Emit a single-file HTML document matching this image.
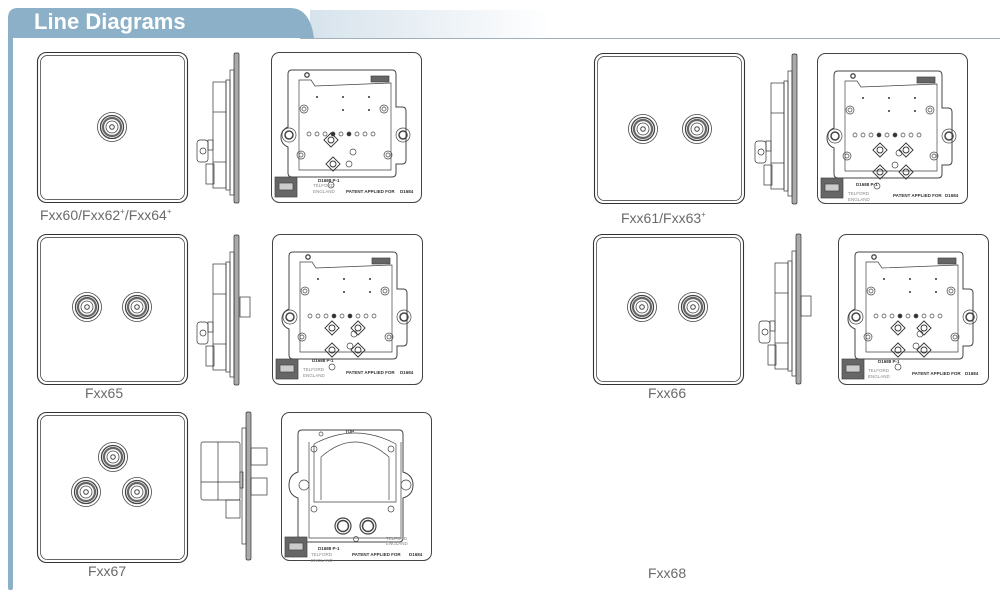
<!DOCTYPE html>
<html><head><meta charset="utf-8"><style>
html,body{margin:0;padding:0;background:#fff;width:1000px;height:592px;overflow:hidden}
svg{display:block}
.lbl{font-family:"Liberation Sans",sans-serif;font-size:14px;fill:#6a6a6a}
.t{font-family:"Liberation Sans",sans-serif;font-size:4.5px;fill:#333;font-weight:bold}
.tg{font-family:"Liberation Sans",sans-serif;font-size:4.5px;fill:#888}
</style></head><body>
<svg width="1000" height="592" viewBox="0 0 1000 592" xmlns="http://www.w3.org/2000/svg">
<defs>
<linearGradient id="hg" x1="0" x2="1" y1="0" y2="0">
<stop offset="0" stop-color="#d7e3ec"/><stop offset="0.35" stop-color="#fff"/></linearGradient>
<g id="front" fill="none" stroke="#333">
<rect x="0.5" y="0.5" width="150" height="150" rx="9" stroke-width="1.1"/>
<rect x="3.5" y="3.5" width="144" height="144" rx="7" stroke-width="0.7"/>
</g>
<g id="sock" fill="none" stroke="#444">
<circle r="14.5" stroke-width="0.8"/>
<circle r="11.5" stroke-width="1.3"/>
<circle r="9" stroke-width="2.2" stroke="#666"/>
<circle r="6" stroke-width="0.8"/>
<circle r="2.3" stroke-width="1"/>
</g>
<g id="side" fill="none" stroke="#333" stroke-width="0.7">
<rect x="40" y="1" width="5" height="150" rx="1.5" fill="#aaa"/>
<rect x="36" y="18" width="4" height="125"/>
<rect x="32" y="28" width="4" height="110"/>
<rect x="19" y="30" width="13" height="106"/>
<line x1="19" y1="60" x2="32" y2="60"/><line x1="19" y1="110" x2="32" y2="110"/>
<rect x="14" y="88" width="5" height="10"/>
<rect x="3" y="88" width="11" height="22" rx="3"/>
<circle cx="9" cy="99" r="3"/>
<rect x="12" y="112" width="8" height="20"/>
</g>
<g id="rear" fill="none" stroke="#444" stroke-width="0.7">
<rect x="0.5" y="0.5" width="150" height="150" rx="8" stroke-width="1"/>
<path d="M17 22 Q17 18 21 18 L121 18 Q125 18 125 22 L125 55 L131 55 Q135 55 135 59 L135 108 Q135 112 131 112 L125 112 L125 121 Q125 125 121 125 L21 125 Q17 125 17 121 L17 95 Q10 92 10 85 Q10 78 17 75 Z" stroke-width="1"/>
<path d="M28 28 L40 28 L44 34 L120 31 L120 118 L28 118 Z"/>
<circle cx="36" cy="23" r="2.2" stroke-width="1.3"/>
<rect x="100" y="24" width="18" height="6" fill="#666"/>
<circle cx="18" cy="83" r="7"/><circle cx="18" cy="83" r="4" stroke-width="1.5"/>
<circle cx="132" cy="83" r="7"/><circle cx="132" cy="83" r="4" stroke-width="1.5"/>
<circle cx="33" cy="57" r="4"/><circle cx="33" cy="57" r="2"/>
<circle cx="113" cy="57" r="4"/><circle cx="113" cy="57" r="2"/>
<circle cx="30" cy="103" r="4"/><circle cx="30" cy="103" r="2"/>
<circle cx="117" cy="103" r="4"/><circle cx="117" cy="103" r="2"/>
<g fill="#333" stroke="none"><circle cx="46" cy="45" r="1"/><circle cx="72" cy="45" r="1"/><circle cx="98" cy="45" r="1"/><circle cx="72" cy="58" r="1"/><circle cx="98" cy="58" r="1"/></g>
<circle cx="38" cy="82" r="2"/><circle cx="46" cy="82" r="2"/><circle cx="54" cy="82" r="2"/><circle cx="62" cy="82" r="2" fill="#333"/><circle cx="70" cy="82" r="2"/><circle cx="78" cy="82" r="2" fill="#333"/><circle cx="86" cy="82" r="2"/><circle cx="94" cy="82" r="2"/><circle cx="102" cy="82" r="2"/>
<circle cx="82" cy="100" r="3"/><circle cx="78" cy="112" r="3"/>
<rect x="4" y="125" width="22" height="20" fill="#666"/>
<rect x="8" y="131" width="14" height="7" fill="#ccc"/>
<circle cx="60" cy="133" r="3"/>
</g>
<g id="sq" fill="none" stroke="#333" stroke-width="0.9">
<rect x="-5" y="-5" width="10" height="10" transform="rotate(45)"/><circle r="3"/>
</g>
<g id="rear67" fill="none" stroke="#444" stroke-width="0.7">
<rect x="0.5" y="0.5" width="150" height="148" rx="8" stroke-width="1"/>
<path d="M17 22 Q17 18 21 18 L118 18 Q122 18 122 22 L122 60 Q132 63 132 73 Q132 83 122 86 L122 126 Q122 130 118 130 L21 130 Q17 130 17 126 L17 86 Q8 83 8 73 Q8 63 17 60 Z" stroke-width="1"/>
<path d="M33 32 L33 90 L115 90 L115 32 Q74 10 33 32 Z"/>
<path d="M40 88 L40 45 Q74 15 108 45 L108 88"/>
<path d="M28 30 L28 126 L120 126 L120 30"/>
<circle cx="23" cy="73" r="5"/><circle cx="125" cy="73" r="5"/>
<circle cx="33" cy="37" r="3"/><circle cx="110" cy="37" r="3"/>
<circle cx="33" cy="97" r="3"/><circle cx="110" cy="97" r="3"/>
<circle cx="62" cy="114" r="8" stroke-width="1.2"/><circle cx="62" cy="114" r="5.5" stroke-width="1.5"/>
<circle cx="87" cy="114" r="8" stroke-width="1.2"/><circle cx="87" cy="114" r="5.5" stroke-width="1.5"/>
<circle cx="40" cy="22" r="2"/><circle cx="75" cy="127" r="2.5"/>
<rect x="4" y="125" width="22" height="20" fill="#666"/>
<rect x="8" y="131" width="14" height="7" fill="#ccc"/>
</g>
</defs>

<!-- header -->
<rect x="310" y="10" width="690" height="28" fill="url(#hg)"/>
<line x1="300" y1="38.5" x2="1000" y2="38.5" stroke="#9fb0bc" stroke-width="1"/>
<path d="M8 38 L8 18 Q8 8 18 8 L290 8 Q310 8 314 38 Z" fill="#8cb0c8"/>
<rect x="8" y="30" width="5" height="560" rx="2" fill="#8cb0c8"/>
<text x="34" y="29" font-family="Liberation Sans,sans-serif" font-size="22" font-weight="bold" fill="#fff">Line Diagrams</text>

<!-- Fxx60 -->
<use href="#front" x="37" y="52"/>
<use href="#sock" x="112" y="127"/>
<use href="#side" x="194" y="52"/>
<use href="#rear" x="271" y="52"/>
<use href="#sq" x="331" y="140"/><use href="#sq" x="333" y="164"/>
<text class="t" x="318" y="182">D1688 P-1</text><text class="tg" x="313" y="187">TELFORD</text><text class="tg" x="313" y="193">ENGLAND</text><text class="t" x="346" y="193">PATENT APPLIED FOR</text><text class="t" x="400" y="193">D1684</text>
<text class="lbl" x="40" y="220">Fxx60/Fxx62<tspan font-size="8" dy="-6">+</tspan><tspan dy="6">/Fxx64</tspan><tspan font-size="8" dy="-6">+</tspan></text>

<!-- Fxx61 -->
<use href="#front" x="594" y="53"/>
<use href="#sock" x="643" y="129"/><use href="#sock" x="697" y="129"/>
<use href="#side" x="752" y="53"/>
<use href="#rear" x="817" y="53"/>
<use href="#sq" x="880" y="150"/><use href="#sq" x="906" y="150"/><use href="#sq" x="880" y="172"/><use href="#sq" x="906" y="172"/>
<text class="t" x="856" y="186">D1688 P-1</text><text class="tg" x="848" y="195">TELFORD</text><text class="tg" x="848" y="201">ENGLAND</text><text class="t" x="893" y="197">PATENT APPLIED FOR</text><text class="t" x="945" y="197">D1684</text>
<text class="lbl" x="621" y="223">Fxx61/Fxx63<tspan font-size="8" dy="-6">+</tspan></text>

<!-- Fxx65 -->
<use href="#front" x="37" y="234"/>
<use href="#sock" x="87" y="307"/><use href="#sock" x="137" y="307"/>
<use href="#side" x="194" y="234"/>
<rect x="240" y="297" width="10" height="20" fill="none" stroke="#333" stroke-width="0.7"/>
<use href="#rear" x="272" y="234"/>
<use href="#sq" x="332" y="328"/><use href="#sq" x="358" y="328"/><use href="#sq" x="332" y="350"/><use href="#sq" x="358" y="350"/>
<text class="t" x="312" y="362">D1688 P-1</text><text class="tg" x="303" y="371">TELFORD</text><text class="tg" x="303" y="377">ENGLAND</text><text class="t" x="346" y="374">PATENT APPLIED FOR</text><text class="t" x="400" y="374">D1684</text>
<text class="lbl" x="85" y="398">Fxx65</text>

<!-- Fxx66 -->
<use href="#front" x="593" y="234"/>
<use href="#sock" x="642" y="307"/><use href="#sock" x="693" y="307"/>
<use href="#side" x="756" y="233"/>
<rect x="801" y="296" width="10" height="20" fill="none" stroke="#333" stroke-width="0.7"/>
<use href="#rear" x="838" y="234"/>
<use href="#sq" x="898" y="328"/><use href="#sq" x="924" y="328"/><use href="#sq" x="898" y="350"/><use href="#sq" x="924" y="350"/>
<text class="t" x="878" y="363">D1688 P-1</text><text class="tg" x="868" y="372">TELFORD</text><text class="tg" x="868" y="378">ENGLAND</text><text class="t" x="912" y="375">PATENT APPLIED FOR</text><text class="t" x="965" y="375">D1684</text>
<text class="lbl" x="648" y="398">Fxx66</text>

<!-- Fxx67 -->
<use href="#front" x="37" y="412"/>
<use href="#sock" x="113" y="457"/><use href="#sock" x="86" y="492"/><use href="#sock" x="137" y="492"/>
<g fill="none" stroke="#333" stroke-width="0.7">
<rect x="246" y="412" width="5" height="148" rx="1.5" fill="#aaa"/>
<rect x="242" y="428" width="4" height="116"/>
<rect x="201" y="442" width="39" height="58" rx="2"/>
<line x1="218" y1="442" x2="218" y2="500"/><line x1="201" y1="482" x2="240" y2="482"/>
<rect x="226" y="500" width="14" height="18"/>
<rect x="251" y="448" width="16" height="17"/><rect x="251" y="478" width="16" height="17"/>
<rect x="240" y="472" width="3" height="16"/>
</g>
<use href="#rear67" x="281" y="412"/>
<text class="t" x="345" y="433">TOP</text>
<text class="t" x="318" y="550">D1688 P-1</text><text class="tg" x="386" y="540">TELFORD</text><text class="tg" x="386" y="545">ENGLAND</text>
<text class="tg" x="311" y="556">TELFORD</text><text class="tg" x="311" y="562">ENGLAND</text><text class="t" x="352" y="556">PATENT APPLIED FOR</text><text class="t" x="409" y="556">D1684</text>
<text class="lbl" x="88" y="576">Fxx67</text>

<text class="lbl" x="648" y="578">Fxx68</text>
</svg>
</body></html>
